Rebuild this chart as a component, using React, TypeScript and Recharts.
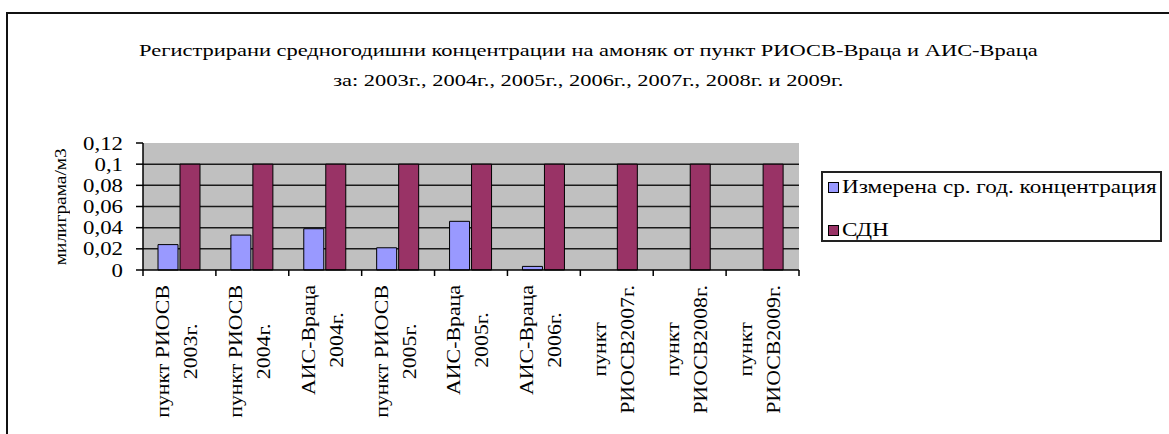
import React from 'react';
import { BarChart, Bar, XAxis, YAxis, CartesianGrid, Legend } from 'recharts';

const titleLines = [
  'Регистрирани средногодишни концентрации на амоняк от пункт РИОСВ-Враца и АИС-Враца',
  'за: 2003г., 2004г., 2005г., 2006г., 2007г., 2008г. и 2009г.',
];

const categories = [
  'пункт РИОСВ 2003г.',
  'пункт РИОСВ 2004г.',
  'АИС-Враца 2004г.',
  'пункт РИОСВ 2005г.',
  'АИС-Враца 2005г.',
  'АИС-Враца 2006г.',
  'пункт РИОСВ2007г.',
  'пункт РИОСВ2008г.',
  'пункт РИОСВ2009г.',
];

const labelLines = [
  ['пункт РИОСВ', '2003г.'],
  ['пункт РИОСВ', '2004г.'],
  ['АИС-Враца', '2004г.'],
  ['пункт РИОСВ', '2005г.'],
  ['АИС-Враца', '2005г.'],
  ['АИС-Враца', '2006г.'],
  ['пункт', 'РИОСВ2007г.'],
  ['пункт', 'РИОСВ2008г.'],
  ['пункт', 'РИОСВ2009г.'],
];

const measured = [0.024, 0.033, 0.039, 0.021, 0.046, 0.0034, null, null, null];
const sdn = [0.1, 0.1, 0.1, 0.1, 0.1, 0.1, 0.1, 0.1, 0.1];

const yTicks = [0, 0.02, 0.04, 0.06, 0.08, 0.1, 0.12];
const gridValues = [0.02, 0.04, 0.06, 0.08, 0.1];

const seriesNames = ['Измерена ср. год. концентрация', 'СДН'];
const yLabel = 'милиграма/м3';

const FONT = '"Liberation Serif", "Times New Roman", serif';
const FS = 19;
const STRETCH = 1.2; // the original's font is noticeably wider than Liberation Serif
const BLUE = '#9999FF';
const MAROON = '#993366';

const data = categories.map((name, i) => ({
  name,
  measured: measured[i],
  sdn: sdn[i],
}));

const W = 1169;
const H = 434;
const margin = { top: 143, right: 370, bottom: 14, left: 83 };
const Y_AXIS_W = 60;
const X_AXIS_H = 150;
const plotW = W - margin.left - margin.right - Y_AXIS_W;
const band = plotW / categories.length;

let ctx: CanvasRenderingContext2D | null = null;
function textWidth(s: string) {
  if (!ctx) ctx = document.createElement('canvas').getContext('2d');
  if (!ctx) return s.length * FS * 0.5;
  ctx.font = `${FS}px ${FONT}`;
  return ctx.measureText(s).width;
}

const fmt = (v: number) => String(v).replace('.', ',');

const XTick = (props: any) => {
  const { x, y, payload } = props;
  const i = categories.indexOf(payload.value);
  const lines = labelLines[i] || [];
  const k0 = 1.15;
  const longest = Math.max(...lines.map(textWidth)) * k0;
  const cy = y + 15 + longest / 2;
  const offs = [-17, 11];
  return (
    <g>
      <line x1={x - band / 2} x2={x - band / 2} y1={y} y2={y + 6} stroke="#000" strokeWidth={1.5} />
      {i === categories.length - 1 && (
        <line x1={x + band / 2} x2={x + band / 2} y1={y} y2={y + 6} stroke="#000" strokeWidth={1.5} />
      )}
      {lines.map((t, k) => (
        <text
          key={k}
          x={x + offs[k]}
          y={cy}
          transform={`rotate(-90 ${x + offs[k]} ${cy})`}
          textAnchor="middle"
          dominantBaseline="central"
          fontFamily={FONT}
          fontSize={FS}
          textLength={textWidth(t) * k0}
          lengthAdjust="spacingAndGlyphs"
          fill="#000"
        >
          {t}
        </text>
      ))}
    </g>
  );
};

const YTick = (props: any) => {
  const { x, y, payload } = props;
  const s = fmt(payload.value);
  return (
    <text
      x={x}
      y={y}
      textAnchor="end"
      dominantBaseline="central"
      fontFamily={FONT}
      fontSize={FS}
      textLength={textWidth(s) * STRETCH}
      lengthAdjust="spacingAndGlyphs"
      fill="#000"
    >
      {s}
    </text>
  );
};

const LegendBox = () => (
  <div
    style={{
      width: 341,
      height: 71,
      boxSizing: 'border-box',
      border: '2px solid #222',
      background: '#fff',
      fontFamily: FONT,
      fontSize: FS,
      color: '#000',
      padding: '1px 0 0 5px',
    }}
  >
    {seriesNames.map((n, k) => (
      <div key={n} style={{ display: 'flex', alignItems: 'center', height: 26, marginTop: k ? 17 : 0 }}>
        <span
          style={{
            display: 'inline-block',
            width: 9,
            height: 9,
            border: '1px solid #000',
            background: k ? MAROON : BLUE,
            marginRight: 3,
            flex: 'none',
          }}
        />
        <span style={{ display: 'inline-block', transform: `scaleX(${STRETCH + 0.02})`, transformOrigin: 'left center', whiteSpace: 'nowrap' }}>
          {n}
        </span>
      </div>
    ))}
  </div>
);

export default function App() {
  return (
    <div style={{ position: 'absolute', left: 0, top: 0, width: W, height: H, overflow: 'hidden', background: '#fff' }}>
      <div
        style={{
          position: 'absolute',
          left: 6,
          top: 12,
          width: W,
          height: H + 40,
          border: '2px solid #111',
        }}
      />
      <div
        style={{
          position: 'absolute',
          left: 0,
          top: 36,
          width: 1176,
          textAlign: 'center',
          fontFamily: FONT,
          fontSize: FS - 2,
          lineHeight: '30px',
          color: '#000',
        }}
      >
        {titleLines.map((t) => (
          <div key={t}>
            <span style={{ display: 'inline-block', transform: `scaleX(${STRETCH + 0.12})`, whiteSpace: 'nowrap' }}>{t}</span>
          </div>
        ))}
      </div>
      <div
        style={{
          position: 'absolute',
          left: 50,
          top: 143,
          height: 127,
          width: 22,
          writingMode: 'vertical-rl',
          transform: 'rotate(180deg) scaleY(1.14)',
          textAlign: 'center',
          fontFamily: FONT,
          fontSize: FS - 2,
          lineHeight: '22px',
          color: '#000',
          whiteSpace: 'nowrap',
        }}
      >
        {yLabel}
      </div>
      <div style={{ position: 'absolute', left: 0, top: 0 }}>
        <BarChart width={W} height={H} data={data} margin={margin} barSize={20} barGap={2}>
          <CartesianGrid
            horizontal
            vertical={false}
            horizontalValues={gridValues}
            fill="#C0C0C0"
            stroke="#1a1a1a"
            strokeWidth={1.5}
          />
          <XAxis
            dataKey="name"
            height={X_AXIS_H}
            interval={0}
            tick={<XTick />}
            tickLine={false}
            tickSize={0}
            tickMargin={0}
            axisLine={{ stroke: '#000', strokeWidth: 1.5 }}
          />
          <YAxis
            width={Y_AXIS_W}
            domain={[0, 0.12]}
            ticks={yTicks}
            interval={0}
            tick={<YTick />}
            tickSize={7}
            tickMargin={13}
            tickLine={{ stroke: '#000', strokeWidth: 1.5 }}
            axisLine={{ stroke: '#000', strokeWidth: 1.5 }}
          />
          <Legend
            layout="horizontal"
            verticalAlign="middle"
            align="center"
            content={<LegendBox />}
            wrapperStyle={{ position: 'absolute', left: 821, top: 171, width: 341, height: 71 }}
          />
          <Bar dataKey="measured" name={seriesNames[0]} fill={BLUE} stroke="#000" strokeWidth={1} isAnimationActive={false} />
          <Bar dataKey="sdn" name={seriesNames[1]} fill={MAROON} stroke="#000" strokeWidth={1} isAnimationActive={false} />
        </BarChart>
      </div>
    </div>
  );
}
